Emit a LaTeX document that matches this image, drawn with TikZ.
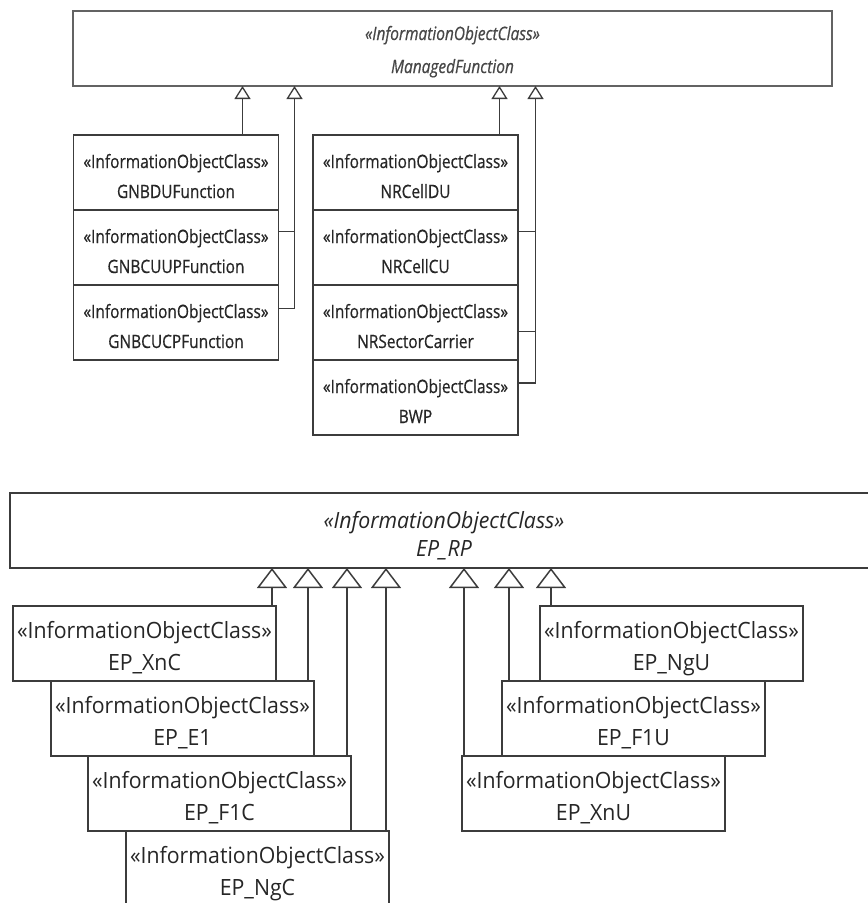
\documentclass[tikz,border=0pt]{standalone}
\usepackage{fontspec}
\newfontfamily\topfont[FakeStretch=0.84,FakeBold=0.6]{Open Sans}
\newfontfamily\botfont[FakeStretch=0.95]{Open Sans}
\usetikzlibrary{arrows.meta,positioning}
\definecolor{linec}{HTML}{3C3C3C}
\definecolor{textc}{HTML}{262626}

\begin{document}
\begin{tikzpicture}[x=1pt,y=-1pt,
        ioc/.style={draw=linec,line width=1.3pt,fill=white,outer sep=0pt,inner sep=0pt,
            minimum width=205pt,minimum height=75pt,align=center,text=textc,
            text height=63pt,text depth=12pt,
            font=\topfont\fontsize{18.4}{30}\selectfont},
        ep/.style={ioc,line width=1.5pt,minimum width=263pt,text height=64pt,text depth=11pt,
            font=\botfont\fontsize{22.4}{32}\selectfont},
        link/.style={draw=linec,line width=1.3pt},
        gen/.style={link,-{Triangle[length=13pt,width=16pt,fill=white]}},
        genb/.style={link,line width=1.5pt,-{Triangle[length=20pt,width=30pt,fill=white]}}]
    \useasboundingbox (0,0) rectangle (868,903);
    \node[ioc,minimum width=759pt,draw=linec!80,text=textc!85,text height=62pt,text depth=13pt,
        font=\topfont\itshape\fontsize{18.4}{33}\selectfont] (mf) at (452.5,48.5)
        {«InformationObjectClass»\\ManagedFunction};
    \node[ioc] (du) at (176,172.5) {«InformationObjectClass»\\GNBDUFunction};
    \node[ioc] (cuup) [below=0pt of du] {«InformationObjectClass»\\GNBCUUPFunction};
    \node[ioc] (cucp) [below=0pt of cuup] {«InformationObjectClass»\\GNBCUCPFunction};
    \node[ioc] (celldu) at (415.5,172.5) {«InformationObjectClass»\\NRCellDU};
    \node[ioc] (cellcu) [below=0pt of celldu] {«InformationObjectClass»\\NRCellCU};
    \node[ioc] (sector) [below=0pt of cellcu] {«InformationObjectClass»\\NRSectorCarrier};
    \node[ioc] (bwp) [below=0pt of sector] {«InformationObjectClass»\\BWP};
    \coordinate (railL) at ([xshift=16pt]du.east);
    \coordinate (railR) at ([xshift=17.5pt]celldu.east);
    \path ([xshift=-36pt]du.north east) coordinate (p1)
        ([xshift=-18.5pt]celldu.north east) coordinate (p2)
        ([yshift=16pt]cuup.east) coordinate (s1)
        ([yshift=16pt]cellcu.east) coordinate (s2)
        ([yshift=-9pt]sector.east) coordinate (s3);
    \draw[gen] (p1) -- (p1 |- mf.south);
    \draw[gen] (p2) -- (p2 |- mf.south);
    \draw[gen] ([yshift=14pt]cucp.east) -| (railL |- mf.south);
    \draw[gen] ([yshift=14.5pt]bwp.east) -| (railR |- mf.south);
    \draw[link] (s1) -- (s1 -| railL);
    \draw[link] (s2) -- (s2 -| railR);
    \draw[link] (s3) -- (s3 -| railR);

    \node[ep,minimum width=868pt,text height=63pt,text depth=12pt,
        font=\botfont\itshape\fontsize{22.4}{28}\selectfont]
        (rp) at (444,530.5) {«InformationObjectClass»\\EP\_RP};
    \node[ep] (xnc) at (144.5,643.5) {«InformationObjectClass»\\EP\_XnC};
    \node[ep,anchor=north west] (e1) at ([xshift=38pt]xnc.south west) {«InformationObjectClass»\\EP\_E1};
    \node[ep,anchor=north west] (f1c) at ([xshift=37pt]e1.south west) {«InformationObjectClass»\\EP\_F1C};
    \node[ep,anchor=north west] (ngc) at ([xshift=38pt]f1c.south west) {«InformationObjectClass»\\EP\_NgC};
    \node[ep] (ngu) at (671.5,643.5) {«InformationObjectClass»\\EP\_NgU};
    \node[ep,anchor=north west] (f1u) at ([xshift=-38pt]ngu.south west) {«InformationObjectClass»\\EP\_F1U};
    \node[ep,anchor=north west] (xnu) at ([xshift=-40pt]f1u.south west) {«InformationObjectClass»\\EP\_XnU};
    \foreach \n/\dx in {xnc/-4,e1/-6,f1c/-4,ngc/-3} {
        \path ([xshift=\dx pt]\n.north east) coordinate (s);
        \draw[genb] (s) -- (s |- rp.south);
    }
    \foreach \n/\dx in {xnu/2,f1u/7,ngu/11} {
        \path ([xshift=\dx pt]\n.north west) coordinate (s);
        \draw[genb] (s) -- (s |- rp.south);
    }
\end{tikzpicture}
\end{document}
